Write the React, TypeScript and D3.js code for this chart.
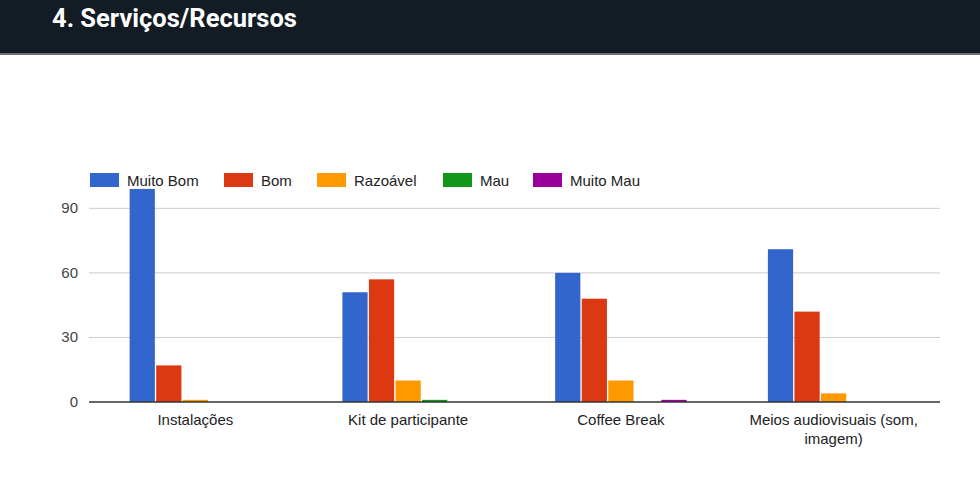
import React from 'react';
import * as d3 from 'd3';

const categories = ['Instalações', 'Kit de participante', 'Coffee Break', 'Meios audiovisuais (som, imagem)'];
const categoryLines = [['Instalações'], ['Kit de participante'], ['Coffee Break'], ['Meios audiovisuais (som,', 'imagem)']];
const seriesNames = ['Muito Bom', 'Bom', 'Razoável', 'Mau', 'Muito Mau'];
const seriesColors = ['#3366cc', '#dc3912', '#ff9900', '#109618', '#990099'];

const muitoBom = [99, 51, 60, 71];
const bom = [17, 57, 48, 42];
const razoavel = [1, 10, 10, 4];
const mau = [0, 1, 0, 0];
const muitoMau = [0, 0, 1, 0];
const seriesValues = [muitoBom, bom, razoavel, mau, muitoMau];

const yTicks = [0, 30, 60, 90];

const width = 980;
const height = 500;
const left = 89;
const right = 940;
const baseY = 402;
const font = 'Arial, "Liberation Sans", sans-serif';

const App: React.FC = () => {
  const x0 = d3.scaleBand<string>()
    .domain(categories)
    .range([left, right])
    .paddingInner(0.382)
    .paddingOuter(0.191);

  const x1 = d3.scaleBand<string>()
    .domain(seriesNames)
    .range([0, x0.bandwidth()])
    .paddingInner(0.05);

  const y = d3.scaleLinear()
    .domain([0, 100])
    .range([baseY, baseY - 215.2]);

  // legend positions
  const legendX = [90, 224, 317, 443, 533];

  return (
    <div style={{ position: 'absolute', left: 0, top: 0 }}>
      <svg width={width} height={height} style={{ display: 'block', background: '#fff' }}>
        <rect x={0} y={0} width={width} height={53} fill="#131b24" />
        <rect x={0} y={53} width={width} height={2} fill="#6b7177" />
        <text x={52} y={27} fill="#fff" fontFamily="Roboto, sans-serif" fontWeight="bold" fontSize={25.5}>
          4. Serviços/Recursos
        </text>

        {seriesNames.map((name, i) => (
          <g key={name} transform={`translate(${legendX[i]},173)`}>
            <rect width={29} height={14} fill={seriesColors[i]} />
            <text x={37} y={13} fontFamily={font} fontSize={15} fill="#222">{name}</text>
          </g>
        ))}

        {yTicks.map(t => (
          <g key={t}>
            {t !== 0 && (
              <line x1={left} x2={right} y1={y(t)} y2={y(t)} stroke="#cccccc" strokeWidth={1} />
            )}
            <text x={78} y={y(t) + 5} textAnchor="end" fontFamily={font} fontSize={15} fill="#444">{t}</text>
          </g>
        ))}

        {categories.map((c, ci) => (
          <g key={c} transform={`translate(${x0(c)},0)`}>
            {seriesNames.map((s, si) => {
              const v = seriesValues[si][ci];
              if (!v) return null;
              return (
                <rect
                  key={s}
                  x={x1(s)}
                  y={y(v)}
                  width={x1.bandwidth()}
                  height={y(0) - y(v)}
                  fill={seriesColors[si]}
                />
              );
            })}
          </g>
        ))}

        <line x1={left} x2={right} y1={baseY} y2={baseY} stroke="#333" strokeWidth={1.5} />

        {categories.map((c, ci) => (
          <text
            key={c}
            x={(x0(c) || 0) + x0.bandwidth() / 2}
            textAnchor="middle"
            fontFamily={font}
            fontSize={15}
            fill="#222"
          >
            {categoryLines[ci].map((line, li) => (
              <tspan key={li} x={(x0(c) || 0) + x0.bandwidth() / 2} y={425 + li * 19}>{line}</tspan>
            ))}
          </text>
        ))}
      </svg>
    </div>
  );
};

export default App;
